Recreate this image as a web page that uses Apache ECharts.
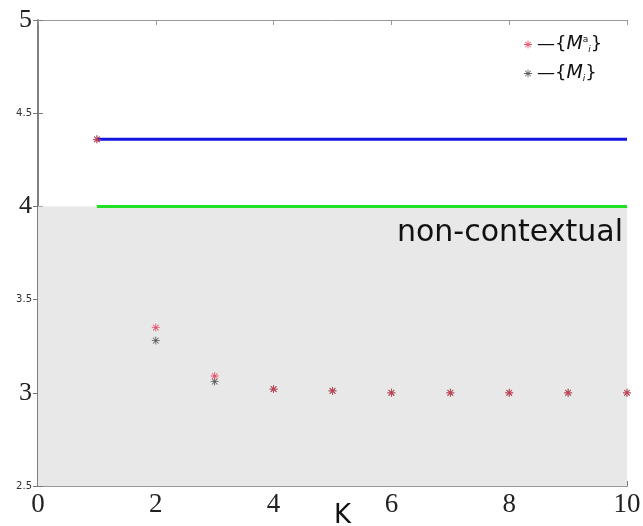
<!DOCTYPE html>
<html>
<head>
<meta charset="utf-8">
<script src="https://cdn.jsdelivr.net/npm/echarts@6/dist/echarts.min.js"></script>
<style>
  html, body { margin: 0; padding: 0; background: #fff; }
  #chart { width: 643px; height: 526px; }
</style>
</head>
<body>
<div id="chart"></div>
<script>
  // data
  let kValues = [1, 2, 3, 4, 5, 6, 7, 8, 9, 10];
  let maValues = [4.36, 3.35, 3.09, 3.02, 3.01, 3.0, 3.0, 3.0, 3.0, 3.0];
  let mValues = [4.36, 3.28, 3.06, 3.02, 3.01, 3.0, 3.0, 3.0, 3.0, 3.0];
  let blueLevel = 4.36;
  let greenLevel = 4.0;
  let lineRange = [1, 10];
  let shadeRange = [2.5, 4.0];
  let xTicks = [0, 2, 4, 6, 8, 10];
  let yTicks = [2.5, 3, 3.5, 4, 4.5, 5];

  let serif = '"Liberation Serif", "DejaVu Serif", serif';

  // MATLAB-like '*' marker
  let star = 'path://M-1 -0.1 L1 -0.1 L1 0.1 L-1 0.1 Z M-0.1 -1 L0.1 -1 L0.1 1 L-0.1 1 Z ' +
    'M-0.63 -0.77 L0.77 0.63 L0.63 0.77 L-0.77 -0.63 Z M-0.77 0.63 L0.63 -0.77 L0.77 -0.63 L-0.63 0.77 Z';

  let chart = echarts.init(document.getElementById('chart'));

  let pairs = function (xs, ys) {
    return xs.map(function (x, i) { return [x, ys[i]]; });
  };

  let option = {
    animation: false,
    grid: { left: 38, right: 16, top: 20, bottom: 40, containLabel: false, outerBoundsMode: 'none' },
    legend: {
      orient: 'vertical',
      left: 519,
      top: 30,
      itemGap: 10,
      itemWidth: 8,
      itemHeight: 8,
      data: [
        { name: 'Ma', icon: star, itemStyle: { color: '#e8334f' } },
        { name: 'M', icon: star, itemStyle: { color: '#333' } }
      ],
      formatter: function (name) {
        if (name == 'Ma') {
          return '{t|—{}{it|M}{sup|a}{sub|i}{t|}}';
        }
        return '{t|—{}{it|M}{sub|i}{t|}}';
      },
      textStyle: {
        fontFamily: 'DejaVu Sans',
        fontSize: 18,
        color: '#111',
        rich: {
          t: { fontSize: 18, fontFamily: 'DejaVu Sans', color: '#111' },
          it: { fontSize: 19, fontStyle: 'italic', fontFamily: 'DejaVu Sans', color: '#111' },
          sup: { fontSize: 9, verticalAlign: 'top', fontFamily: 'DejaVu Sans', color: '#111' },
          sub: { fontSize: 9, fontStyle: 'italic', verticalAlign: 'bottom', fontFamily: 'DejaVu Sans', color: '#111' }
        }
      }
    },
    xAxis: [
      {
        type: 'value',
        min: 0,
        max: 10,
        interval: 2,
        name: 'K',
        nameLocation: 'middle',
        nameGap: 17,
        nameMoveOverlap: false,
        nameTextStyle: {
          fontFamily: 'DejaVu Sans',
          fontSize: 26,
          color: '#111',
          verticalAlign: 'top',
          padding: [0, 0, 0, 20]
        },
        axisLine: { show: true, lineStyle: { color: '#777', width: 1.5 } },
        axisTick: { show: true, inside: true, length: 5, lineStyle: { color: '#777' } },
        axisLabel: {
          margin: 5,
          fontFamily: serif,
          fontSize: 27,
          color: '#222',
          customValues: xTicks
        },
        splitLine: { show: false }
      },
      {
        type: 'value',
        position: 'top',
        min: 0,
        max: 10,
        interval: 2,
        axisLine: { show: true, lineStyle: { color: '#999', width: 1 } },
        axisTick: { show: true, inside: true, length: 5, lineStyle: { color: '#999' } },
        axisLabel: { show: false },
        splitLine: { show: false }
      }
    ],
    yAxis: [
      {
        type: 'value',
        min: 2.5,
        max: 5,
        interval: 0.5,
        axisLine: { show: true, lineStyle: { color: '#777', width: 1.5 } },
        axisTick: { show: true, inside: true, length: 5, lineStyle: { color: '#777' } },
        axisLabel: {
          margin: 6,
          color: '#222',
          customValues: yTicks,
          formatter: function (v) {
            if (v % 1 === 0) {
              return '{big|' + v + '}';
            }
            return '{small|' + v + '}';
          },
          rich: {
            big: { fontFamily: serif, fontSize: 26, color: '#222' },
            small: { fontFamily: 'DejaVu Sans', fontSize: 10, color: '#333' }
          }
        },
        splitLine: { show: false }
      },
      {
        type: 'value',
        position: 'right',
        min: 2.5,
        max: 5,
        interval: 0.5,
        axisLine: { show: true, lineStyle: { color: '#777', width: 1.5 } },
        axisTick: { show: true, inside: true, length: 5, lineStyle: { color: '#777' } },
        axisLabel: { show: false },
        splitLine: { show: false }
      }
    ],
    graphic: [
      {
        type: 'text',
        right: 20,
        top: 218,
        z: 10,
        style: {
          text: 'non-contextual',
          font: '30px "DejaVu Sans"',
          fill: '#111'
        }
      }
    ],
    series: [
      {
        name: 'shade',
        type: 'line',
        data: [],
        z: 0,
        silent: true,
        markArea: {
          silent: true,
          itemStyle: { color: '#e8e8e8' },
          data: [[{ xAxis: 0, yAxis: shadeRange[0] }, { xAxis: 10, yAxis: shadeRange[1] }]]
        }
      },
      {
        name: 'blue',
        type: 'line',
        z: 3,
        showSymbol: false,
        lineStyle: { color: '#1515e0', width: 3 },
        data: lineRange.map(function (x) { return [x, blueLevel]; })
      },
      {
        name: 'green',
        type: 'line',
        z: 3,
        showSymbol: false,
        lineStyle: { color: '#22e022', width: 3 },
        data: lineRange.map(function (x) { return [x, greenLevel]; })
      },
      {
        name: 'M',
        type: 'scatter',
        z: 4,
        symbol: star,
        symbolSize: 8,
        itemStyle: { color: '#333' },
        data: pairs(kValues, mValues)
      },
      {
        name: 'Ma',
        type: 'scatter',
        z: 5,
        symbol: star,
        symbolSize: 8,
        itemStyle: { color: '#e8334f', opacity: 0.85 },
        data: pairs(kValues, maValues)
      }
    ]
  };

  chart.setOption(option);
  window.onresize = function () {
    chart.resize();
  }
</script>
</body>
</html>
